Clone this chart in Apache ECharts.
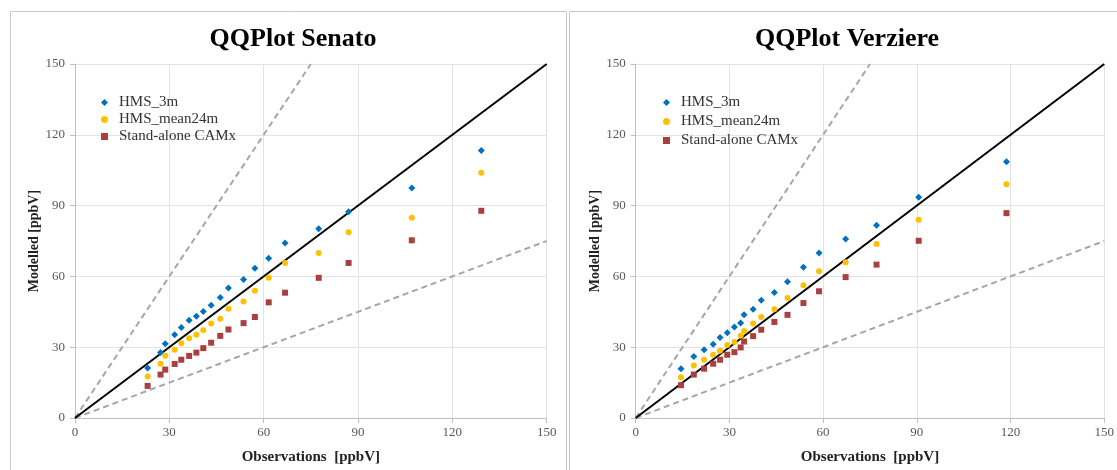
<!DOCTYPE html>
<html>
<head>
<meta charset="utf-8">
<script src="https://cdn.jsdelivr.net/npm/echarts@6/dist/echarts.min.js"></script>
<style>
html,body{margin:0;padding:0;background:#fff;}
#chart{width:1117px;height:470px;}
</style>
</head>
<body>
<div id="chart"></div>
<script>
// ---- Data ----
const titles = ['QQPlot Senato', 'QQPlot Verziere'];
const seriesNames = ['HMS_3m', 'HMS_mean24m', 'Stand-alone CAMx'];
const axisTicks = [0, 30, 60, 90, 120, 150];

// Senato (left panel)
const senatoObs   = [23.1, 27.2, 28.7, 31.7, 33.8, 36.3, 38.6, 40.8, 43.3, 46.2, 48.8, 53.6, 57.2, 61.6, 66.8, 77.5, 87.0, 107.1, 129.2];
const senatoHMS3m = [21.2, 27.8, 31.5, 35.3, 38.3, 41.4, 43.1, 45.1, 47.8, 51.1, 55.1, 58.7, 63.5, 67.7, 74.2, 80.2, 87.4, 97.5, 113.3];
const senatoHMS24 = [17.6, 23.0, 26.4, 28.9, 31.7, 33.8, 35.3, 37.2, 40.0, 42.1, 46.3, 49.4, 53.9, 59.4, 65.7, 69.9, 78.7, 84.8, 103.9];
const senatoCAMx  = [13.6, 18.4, 20.5, 22.9, 24.7, 26.3, 27.7, 29.6, 31.9, 34.8, 37.5, 40.2, 42.8, 49.0, 53.1, 59.4, 65.7, 75.3, 87.8];

// Verziere (right panel)
const verzObs   = [14.5, 18.6, 21.9, 24.8, 27.0, 29.3, 31.6, 33.6, 34.7, 37.6, 40.2, 44.4, 48.6, 53.7, 58.7, 67.2, 77.1, 90.6, 118.7];
const verzHMS3m = [20.9, 26.1, 28.9, 31.3, 34.1, 36.1, 38.6, 40.3, 43.7, 46.1, 49.9, 53.2, 57.7, 63.9, 69.9, 75.8, 81.7, 93.5, 108.6];
const verzHMS24 = [17.3, 22.2, 24.7, 26.8, 28.5, 30.9, 32.2, 34.8, 36.9, 40.0, 42.8, 46.1, 50.8, 56.2, 62.2, 66.0, 73.7, 84.0, 99.0];
const verzCAMx  = [13.9, 18.4, 20.9, 23.0, 24.7, 26.8, 27.9, 29.9, 32.4, 34.7, 37.4, 40.7, 43.7, 48.7, 53.7, 59.7, 65.0, 75.1, 86.8];

// Reference lines: 1:1, 2:1 and 1:2
const line11 = [[0, 0], [150, 150]];
const line21 = [[0, 0], [75, 150]];
const line12 = [[0, 0], [150, 75]];

// ---- Styles ----
const FONT = '"Liberation Serif", "Times New Roman", serif';
const colors = ['#0070C0', '#FFC000', '#A9403F'];
const symbols = ['diamond', 'circle', 'rect'];
const sizes = [7, 6, 6];

const panels = [
  {obs: senatoObs, vals: [senatoHMS3m, senatoHMS24, senatoCAMx]},
  {obs: verzObs, vals: [verzHMS3m, verzHMS24, verzCAMx]}
];

const gridDefs = [
  {left: 75, top: 64, width: 471.7, height: 356},
  {left: 635.7, top: 64, width: 471, height: 356}
];

function zip(xs, ys) { return xs.map((x, i) => [x, ys[i]]); }

const xAxes = [], yAxes = [], series = [], legends = [], titleOpts = [];
const panelCenters = [288, 842];
const legendLeft = [96, 658];
const legendGap = [2, 4];

gridDefs.forEach((g, p) => {
  xAxes.push({
    type: 'value', gridIndex: p, min: 0, max: 150, interval: 30,
    name: 'Observations  [ppbV]', nameLocation: 'middle', nameGap: 32,
    nameTextStyle: {fontFamily: FONT, fontWeight: 'bold', fontSize: 15, color: '#222'},
    axisLine: {show: true, lineStyle: {color: '#bfbfbf', width: 1}},
    axisTick: {show: true, length: 5, lineStyle: {color: '#bfbfbf'}},
    axisLabel: {fontFamily: FONT, fontSize: 13, color: '#595959', margin: 8},
    splitLine: {show: true, lineStyle: {color: '#e3e3e3', width: 1}}
  });
  yAxes.push({
    type: 'value', gridIndex: p, min: 0, max: 150, interval: 30,
    name: 'Modelled [ppbV]', nameLocation: 'middle', nameGap: 33,
    nameTextStyle: {fontFamily: FONT, fontWeight: 'bold', fontSize: 14, color: '#222'},
    axisLine: {show: true, lineStyle: {color: '#bfbfbf', width: 1}},
    axisTick: {show: true, length: 5, lineStyle: {color: '#bfbfbf'}},
    axisLabel: {fontFamily: FONT, fontSize: 13, color: '#595959', margin: 10},
    splitLine: {show: true, lineStyle: {color: '#e3e3e3', width: 1}}
  });
  // reference lines
  series.push({type: 'line', xAxisIndex: p, yAxisIndex: p, data: line21, symbol: 'none', silent: true,
    lineStyle: {color: '#a6a6a6', width: 2, type: [6, 4]}, z: 1});
  series.push({type: 'line', xAxisIndex: p, yAxisIndex: p, data: line12, symbol: 'none', silent: true,
    lineStyle: {color: '#a6a6a6', width: 2, type: [6, 4]}, z: 1});
  series.push({type: 'line', xAxisIndex: p, yAxisIndex: p, data: line11, symbol: 'none', silent: true,
    lineStyle: {color: '#000', width: 2}, z: 2});
  // scatter
  seriesNames.forEach((n, k) => {
    series.push({
      name: n, type: 'scatter', xAxisIndex: p, yAxisIndex: p,
      data: zip(panels[p].obs, panels[p].vals[k]),
      symbol: symbols[k], symbolSize: sizes[k],
      itemStyle: {color: colors[k], opacity: 1}, z: 5
    });
  });
  legends.push({
    orient: 'vertical', left: legendLeft[p], top: 90, itemGap: legendGap[p],
    itemWidth: 7, itemHeight: 7,
    textStyle: {fontFamily: FONT, fontSize: 15, color: '#333', padding: [0, 0, 0, 6]},
    data: seriesNames.map((n, k) => ({name: n, icon: symbols[k]})),
    selectedMode: false
  });
  titleOpts.push({
    text: titles[p], left: panelCenters[p], top: 21, textAlign: 'center',
    textStyle: {fontFamily: FONT, fontWeight: 'bold', fontSize: 26, color: '#000'}
  });
});

const chart = echarts.init(document.getElementById('chart'), null, {renderer: 'canvas'});
chart.setOption({
  animation: false,
  backgroundColor: '#fff',
  title: titleOpts,
  legend: legends,
  grid: gridDefs,
  xAxis: xAxes,
  yAxis: yAxes,
  series: series,
  graphic: [
    {type: 'rect', shape: {x: 10.5, y: 11.5, width: 556, height: 470}, style: {fill: 'none', stroke: '#c8c8c8', lineWidth: 1}, silent: true, z: -1},
    {type: 'rect', shape: {x: 569.5, y: 11.5, width: 560, height: 470}, style: {fill: 'none', stroke: '#c8c8c8', lineWidth: 1}, silent: true, z: -1}
  ]
});
</script>
</body>
</html>
